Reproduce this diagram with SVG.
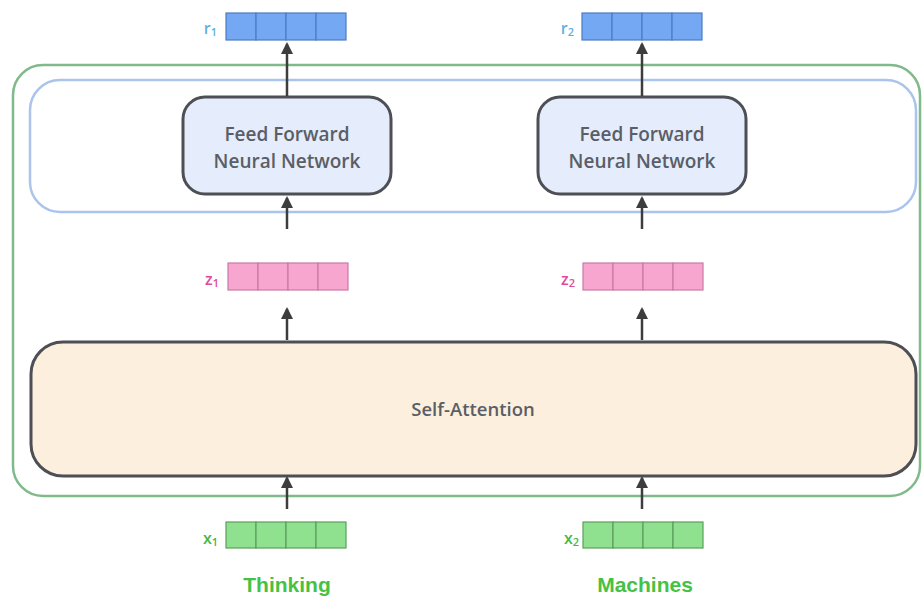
<svg xmlns="http://www.w3.org/2000/svg" width="922" height="599" viewBox="0 0 922 599">
  <defs>
    <marker id="head" viewBox="0 0 12 12" refX="10" refY="6" markerWidth="12" markerHeight="12" markerUnits="userSpaceOnUse" orient="auto">
      <path d="M0,0 L12,6 L0,12 Z" fill="#3d3d3d"/>
    </marker>
    <style>
      .frame { fill: none; stroke-width: 2.5; }
      .box { stroke: #4d4f55; stroke-width: 3; }
      .lbl { font-family: "Open Sans", "Noto Sans", sans-serif; font-weight: 600; fill: #5a5e66; text-anchor: middle; }
      .cell { stroke-width: 1.2; }
      .r .cell { fill: #74a8f2; stroke: #4c7cc4; }
      .z .cell { fill: #f7a6cf; stroke: #c97aa4; }
      .x .cell { fill: #8fe08f; stroke: #5c9e5c; }
      .vname { font-family: "Open Sans", "Noto Sans", sans-serif; font-size: 16px; font-weight: 600; text-anchor: end; }
      .word { font-family: "Liberation Sans", Arial, sans-serif; font-size: 21px; font-weight: 700; fill: #45c245; text-anchor: middle; }
      .conn line { stroke: #3d3d3d; stroke-width: 2.5; marker-end: url(#head); }
    </style>
  </defs>
  <rect width="922" height="599" fill="#ffffff"/>

  <!-- encoder outline -->
  <g id="encoder">
    <rect class="frame" x="13" y="65" width="907" height="431" rx="30" stroke="#80b98a"/>
  </g>

  <!-- feed-forward layer outline -->
  <g id="ffn-layer">
    <rect class="frame" x="30" y="80" width="886" height="132" rx="30" stroke="#aac4ec"/>
  </g>

  <g id="ffn1">
    <rect class="box" x="183" y="97" width="208" height="97" rx="22" fill="#e5ecfb"/>
    <text class="lbl" x="287" y="141" font-size="19">Feed Forward</text>
    <text class="lbl" x="287" y="168" font-size="19">Neural Network</text>
  </g>
  <g id="ffn2">
    <rect class="box" x="538" y="97" width="208" height="97" rx="22" fill="#e5ecfb"/>
    <text class="lbl" x="642" y="141" font-size="19">Feed Forward</text>
    <text class="lbl" x="642" y="168" font-size="19">Neural Network</text>
  </g>

  <g id="self-attention">
    <rect class="box" x="31" y="342" width="885" height="134" rx="32" fill="#fdefdd"/>
    <text class="lbl" x="473" y="416" font-size="18.5">Self-Attention</text>
  </g>

  <!-- vectors -->
  <g id="r1" class="r">
    <text class="vname" x="217" y="34" fill="#5fb0e2">r<tspan font-size="11" dy="2">1</tspan></text>
    <rect class="cell" x="226" y="13" width="30" height="27"/>
    <rect class="cell" x="256" y="13" width="30" height="27"/>
    <rect class="cell" x="286" y="13" width="30" height="27"/>
    <rect class="cell" x="316" y="13" width="30" height="27"/>
  </g>
  <g id="r2" class="r">
    <text class="vname" x="574" y="34" fill="#5fb0e2">r<tspan font-size="11" dy="2">2</tspan></text>
    <rect class="cell" x="582" y="13" width="30" height="27"/>
    <rect class="cell" x="612" y="13" width="30" height="27"/>
    <rect class="cell" x="642" y="13" width="30" height="27"/>
    <rect class="cell" x="672" y="13" width="30" height="27"/>
  </g>
  <g id="z1" class="z">
    <text class="vname" x="219" y="285" fill="#e24a9c">z<tspan font-size="11" dy="2">1</tspan></text>
    <rect class="cell" x="228" y="263" width="30" height="27"/>
    <rect class="cell" x="258" y="263" width="30" height="27"/>
    <rect class="cell" x="288" y="263" width="30" height="27"/>
    <rect class="cell" x="318" y="263" width="30" height="27"/>
  </g>
  <g id="z2" class="z">
    <text class="vname" x="575" y="285" fill="#e24a9c">z<tspan font-size="11" dy="2">2</tspan></text>
    <rect class="cell" x="583" y="263" width="30" height="27"/>
    <rect class="cell" x="613" y="263" width="30" height="27"/>
    <rect class="cell" x="643" y="263" width="30" height="27"/>
    <rect class="cell" x="673" y="263" width="30" height="27"/>
  </g>
  <g id="x1" class="x">
    <text class="vname" x="218" y="544" fill="#46b846">x<tspan font-size="11" dy="2">1</tspan></text>
    <rect class="cell" x="226" y="522" width="30" height="26"/>
    <rect class="cell" x="256" y="522" width="30" height="26"/>
    <rect class="cell" x="286" y="522" width="30" height="26"/>
    <rect class="cell" x="316" y="522" width="30" height="26"/>
    <text class="word" x="287" y="592">Thinking</text>
  </g>
  <g id="x2" class="x">
    <text class="vname" x="579" y="544" fill="#46b846">x<tspan font-size="11" dy="2">2</tspan></text>
    <rect class="cell" x="583" y="522" width="30" height="26"/>
    <rect class="cell" x="613" y="522" width="30" height="26"/>
    <rect class="cell" x="643" y="522" width="30" height="26"/>
    <rect class="cell" x="673" y="522" width="30" height="26"/>
    <text class="word" x="645" y="592">Machines</text>
  </g>

  <!-- connectors -->
  <g id="connectors" class="conn">
    <line x1="287" y1="96" x2="287" y2="44"/>
    <line x1="642" y1="96" x2="642" y2="44"/>
    <line x1="287" y1="229" x2="287" y2="198"/>
    <line x1="642" y1="229" x2="642" y2="198"/>
    <line x1="287" y1="340" x2="287" y2="309"/>
    <line x1="642" y1="340" x2="642" y2="309"/>
    <line x1="287" y1="509" x2="287" y2="478"/>
    <line x1="642" y1="509" x2="642" y2="478"/>
  </g>
</svg>
